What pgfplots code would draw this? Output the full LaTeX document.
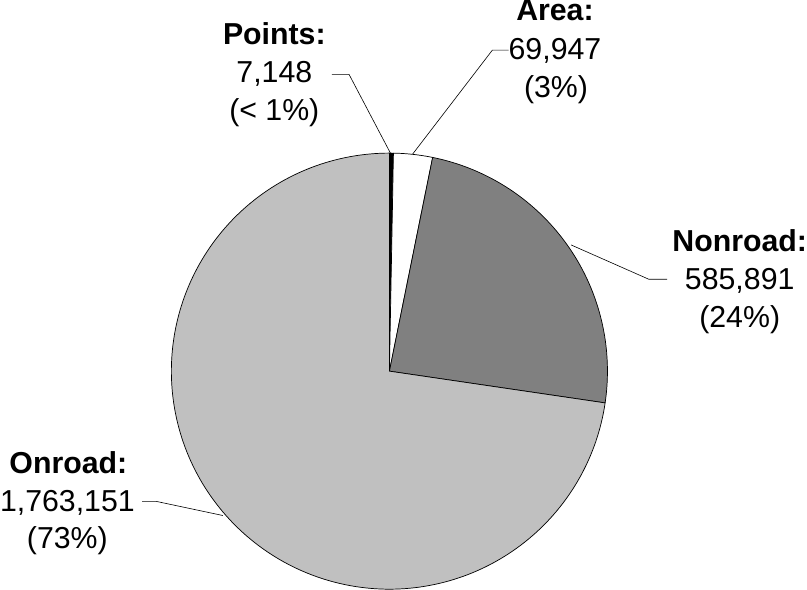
\documentclass[border=0pt]{standalone}
\usepackage{pgfplots}
\usepackage{pgfplotstable}
\usepackage{fontspec}
\setmainfont{Liberation Sans}
\pgfplotsset{compat=1.18}

\definecolor{onroad}{HTML}{C0C0C0}
\definecolor{nonroad}{HTML}{808080}
\tikzset{lab/.style={anchor=base, font=\fontsize{30}{38}\selectfont, inner sep=0pt}}

\pgfplotstableread{
name value
Points 7148
Area 69947
Nonroad 585891
Onroad 1763151
}\slices

\pgfplotstablegetelem{0}{value}\of\slices \edef\vP{\pgfplotsretval}
\pgfplotstablegetelem{1}{value}\of\slices \edef\vA{\pgfplotsretval}
\pgfplotstablegetelem{2}{value}\of\slices \edef\vN{\pgfplotsretval}
\pgfplotstablegetelem{3}{value}\of\slices \edef\vO{\pgfplotsretval}
\edef\tot{\fpeval{\vP+\vA+\vN+\vO}}
% slices run clockwise from 12 o'clock
\edef\aA{\fpeval{90-360*\vP/\tot}}
\edef\aB{\fpeval{\aA-360*\vA/\tot}}
\edef\aC{\fpeval{\aB-360*\vN/\tot}}
\def\cx{392}\def\cy{381}\def\r{216}

\begin{document}
\begin{tikzpicture}
\begin{axis}[
    width=807pt, height=597pt, scale only axis,
    xmin=0, xmax=807, ymin=0, ymax=597,
    y dir=reverse,
    hide axis, clip=false,
    every axis plot/.append style={draw=black, line width=0.7pt, line join=round},
]
\addplot[fill=black, domain=\aA:90, samples=5]
    ({\cx+\r*cos(x)},{\cy-\r*sin(x)}) -- (axis cs:\cx,\cy) -- cycle;
\addplot[fill=white, domain=\aB:\aA, samples=12]
    ({\cx+\r*cos(x)},{\cy-\r*sin(x)}) -- (axis cs:\cx,\cy) -- cycle;
\addplot[fill=nonroad, domain=\aC:\aB, samples=80]
    ({\cx+\r*cos(x)},{\cy-\r*sin(x)}) -- (axis cs:\cx,\cy) -- cycle;
\addplot[fill=onroad, domain=-270:\aC, samples=200]
    ({\cx+\r*cos(x)},{\cy-\r*sin(x)}) -- (axis cs:\cx,\cy) -- cycle;

% leader lines
\addplot[line width=0.6pt] coordinates {(335,87)(352,87)(393,165)};
\addplot[line width=0.6pt] coordinates {(510,63)(494,63)(415,166)};
\addplot[line width=0.6pt] coordinates {(667,290)(649,290)(572,256)};
\addplot[line width=0.6pt] coordinates {(147,510)(161,510)(227,524)};

% labels
\node[lab] at (axis cs:278,57) {\textbf{Points:}};
\node[lab] at (axis cs:278,95) {7,148};
\node[lab] at (axis cs:278,133) {(< 1\%)};
\node[lab] at (axis cs:556,34) {\textbf{Area:}};
\node[lab] at (axis cs:556,72) {69,947};
\node[lab] at (axis cs:557,110) {(3\%)};
\node[lab] at (axis cs:739,262) {\textbf{Nonroad:}};
\node[lab] at (axis cs:739,300) {585,891};
\node[lab] at (axis cs:739,338) {(24\%)};
\node[lab] at (axis cs:74,482) {\textbf{Onroad:}};
\node[lab] at (axis cs:73,520) {1,763,151};
\node[lab] at (axis cs:73,557) {(73\%)};
\end{axis}
\end{tikzpicture}
\end{document}
